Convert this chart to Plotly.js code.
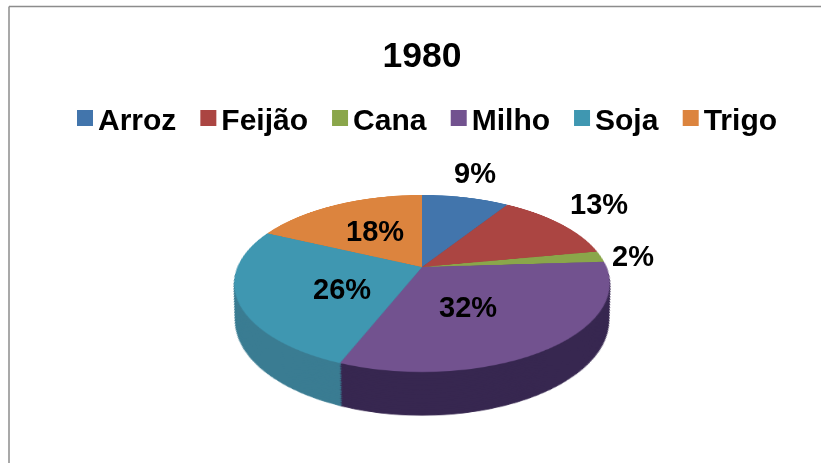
<!DOCTYPE html>
<html><head><meta charset="utf-8">
<script src="https://cdn.plot.ly/plotly-3.0.1.min.js"></script>
<style>
html,body{margin:0;padding:0;background:#fff;overflow:hidden;width:821px;height:463px}
#stage{position:relative;width:821px;height:463px;overflow:hidden}
#pie{position:absolute;left:0;top:0;width:821px;height:800px;transform-origin:422px 267px;transform:perspective(879px) rotateX(62.4deg)}
#top{position:absolute;left:0;top:0;width:821px;height:463px}
</style></head><body>
<div id="stage"><div id="pie"></div><div id="top"></div></div>
<script>
const categories = ['Arroz','Feijão','Cana','Milho','Soja','Trigo'];
const values = [9,13,2,32,26,18];
const topColors = ['#4275ac','#ab4542','#8aa64a','#72528f','#3f97b1','#dc843e'];
const wallColors = ['#2f557e','#7d3230','#657a36','#372750','#3a7c92','#a3622e'];
const labelX = [475,599,633,468,342,375];
const labelY = [173,204,256,307,289,231];
const title = '1980';

const W = 821, H = 800, cx = 422, cy = 267, R = 184.5;
const layers = 24, maxShift = 72, minR = 170;
const pieTraces = [];
for (let i = layers; i >= 0; i--) {
  const t = i / layers;
  const r = R + (minR - R) * t;
  const c = cy + maxShift * t;
  pieTraces.push({
    type:'pie', labels:categories, values:values, sort:false, direction:'clockwise', rotation:0,
    textinfo:'none', hoverinfo:'skip', showlegend:false,
    domain:{x:[(cx-r)/W,(cx+r)/W], y:[1-(c+r)/H,1-(c-r)/H]},
    marker:{colors: i===0 ? topColors : wallColors, line:{width:i===0?0:1, color: i===0 ? '#fff' : wallColors}}
  });
}
Plotly.newPlot('pie', pieTraces, {
  width:W, height:H, margin:{l:0,r:0,t:0,b:0}, paper_bgcolor:'rgba(0,0,0,0)', showlegend:false
}, {displayModeBar:false, staticPlot:true});

const legendTraces = categories.map((c,i)=>({
  type:'scatter', mode:'markers', x:[null], y:[null], name:c,
  marker:{symbol:'square', size:16, color:topColors[i]}
}));
const FONT = '"Liberation Sans", Arial, sans-serif';
Plotly.newPlot('top', legendTraces, {
  width:821, height:463, margin:{l:0,r:0,t:0,b:0},
  paper_bgcolor:'rgba(0,0,0,0)', plot_bgcolor:'rgba(0,0,0,0)',
  xaxis:{visible:false}, yaxis:{visible:false},
  title:{text:'<b>'+title+'</b>', x:422/821, xanchor:'center', y:1-55/463, yanchor:'middle', font:{family:FONT,size:35.5,color:'#000'}},
  showlegend:true,
  legend:{orientation:'h', x:58/821, xanchor:'left', y:1-118/463, yanchor:'middle', bgcolor:'rgba(0,0,0,0)',
    font:{family:FONT,size:30,color:'#000',weight:700}, itemwidth:30, itemclick:false, itemdoubleclick:false, traceorder:'normal'},
  shapes:[
    {type:'line',xref:'paper',yref:'paper',x0:9/821,x1:9/821,y0:0,y1:1-6.5/463,line:{color:'#8c8c8c',width:1.5}},
    {type:'line',xref:'paper',yref:'paper',x0:9/821,x1:1,y0:1-6.5/463,y1:1-6.5/463,line:{color:'#8c8c8c',width:1.5}}
  ],
  annotations: values.map((v,i)=>({
    xref:'paper',yref:'paper',x:labelX[i]/821,y:1-labelY[i]/463,xanchor:'center',yanchor:'middle',
    showarrow:false,text:'<b>'+v+'%</b>',font:{family:FONT,size:29,color:'#000'}
  }))
}, {displayModeBar:false, staticPlot:true}).then(()=>{
  document.querySelectorAll('#top .legendpoints').forEach(g=>g.setAttribute('transform','translate(7,0)'));
});
</script></body></html>
